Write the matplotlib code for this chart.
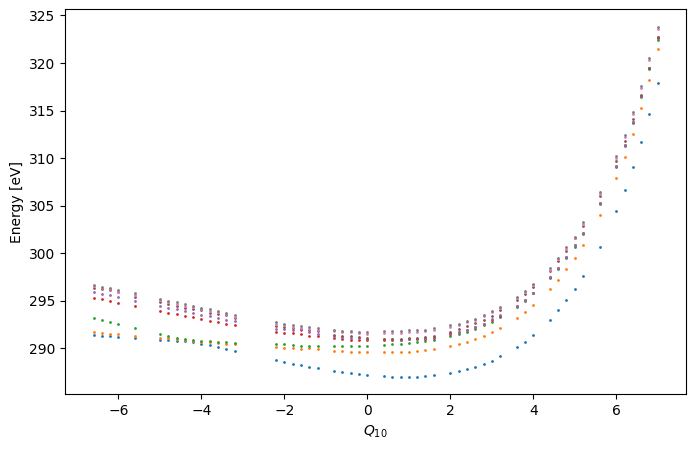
#!/usr/bin/env python3
"""Scatter: state energies along the Q10 coordinate."""

import matplotlib
matplotlib.use("Agg")
import matplotlib.pyplot as plt

Q10 = [-6.6, -6.4, -6.2, -6.0, -5.6,
       -5.0, -4.8, -4.6, -4.4, -4.2, -4.0, -3.8, -3.6, -3.4, -3.2,
       -2.2, -2.0, -1.8, -1.6, -1.4, -1.2,
       -0.8, -0.6, -0.4, -0.2, 0.0,
       0.4, 0.6, 0.8, 1.0, 1.2, 1.4, 1.6,
       2.0, 2.2, 2.4, 2.6, 2.8, 3.0, 3.2,
       3.6, 3.8, 4.0,
       4.4, 4.6, 4.8, 5.0, 5.2,
       5.6,
       6.0, 6.2, 6.4, 6.6, 6.8, 7.0]

state_1 = [291.43, 291.33, 291.33, 291.23, 291.12,
           290.91, 290.90, 290.81, 290.78, 290.70, 290.52, 290.39, 290.18, 289.97, 289.76,
           288.81, 288.60, 288.39, 288.29, 288.08, 287.97,
           287.66, 287.55, 287.45, 287.34, 287.24,
           287.13, 287.03, 287.03, 287.03, 287.03, 287.13, 287.24,
           287.45, 287.66, 287.87, 288.08, 288.36, 288.71, 289.16,
           290.18, 290.70, 291.44,
           293.01, 294.07, 295.12, 296.27, 297.64,
           300.68,
           304.46, 306.67, 309.09, 311.71, 314.65, 317.91]

state_2 = [291.75, 291.65, 291.55, 291.52, 291.33,
           291.12, 291.08, 291.02, 290.91, 290.77, 290.70, 290.63, 290.60, 290.50, 290.50,
           290.18, 290.04, 290.04, 289.97, 290.00, 289.93,
           289.76, 289.76, 289.65, 289.65, 289.65,
           289.65, 289.65, 289.65, 289.65, 289.76, 289.86, 289.97,
           290.28, 290.49, 290.70, 291.02, 291.33, 291.75, 292.17,
           293.22, 293.86, 294.59,
           296.27, 297.22, 298.37, 299.53, 300.89,
           304.04,
           307.93, 310.14, 312.55, 315.28, 318.23, 321.48]

state_3 = [293.22, 293.01, 292.80, 292.59, 292.17,
           291.54, 291.33, 291.12, 290.98, 290.87, 290.81, 290.77, 290.70, 290.70, 290.60,
           290.42, 290.42, 290.39, 290.28, 290.28, 290.21,
           290.28, 290.28, 290.28, 290.28, 290.28,
           290.39, 290.49, 290.49, 290.60, 290.70, 290.81, 290.91,
           291.33, 291.54, 291.75, 292.07, 292.49, 292.80, 293.33,
           294.38, 295.01, 295.78,
           297.41, 298.35, 299.53, 300.68, 302.05,
           305.23,
           309.09, 311.29, 313.71, 316.40, 319.40, 322.46]

state_4 = [295.33, 295.22, 295.01, 294.80, 294.49,
           293.96, 293.75, 293.64, 293.43, 293.33, 293.12, 292.91, 292.80, 292.59, 292.49,
           291.75, 291.65, 291.58, 291.47, 291.29, 291.26,
           291.05, 291.02, 290.91, 290.91, 290.91,
           290.91, 290.91, 290.91, 290.95, 290.95, 291.02, 291.12,
           291.54, 291.75, 291.89, 292.21, 292.52, 292.98, 293.40,
           294.44, 295.08, 295.81,
           297.46, 298.42, 299.60, 300.82, 302.12,
           305.27,
           309.14, 311.35, 313.78, 316.50, 319.44, 322.67]

state_5 = [295.95, 295.74, 295.64, 295.43, 295.01,
           294.49, 294.28, 294.17, 293.96, 293.75, 293.54, 293.43, 293.22, 293.01, 292.91,
           292.03, 292.00, 291.92, 291.89, 291.68, 291.47,
           291.26, 291.23, 291.12, 291.08, 291.02,
           290.95, 290.95, 290.91, 290.95, 291.02, 291.12, 291.23,
           291.61, 291.75, 291.96, 292.28, 292.59, 293.05, 293.47,
           294.49, 295.12, 295.85,
           297.49, 298.43, 299.63, 300.85, 302.15,
           305.30,
           309.19, 311.40, 313.84, 316.55, 319.50, 322.70]

state_6 = [296.38, 296.20, 296.17, 295.95, 295.43,
           294.90, 294.70, 294.49, 294.28, 294.17, 294.07, 293.75, 293.64, 293.54, 293.22,
           292.34, 292.24, 292.13, 292.07, 291.92, 291.82,
           291.40, 291.33, 291.26, 291.19, 291.08,
           291.02, 290.98, 291.02, 291.05, 291.12, 291.23, 291.33,
           291.75, 292.07, 292.38, 292.70, 293.01, 293.43, 293.99,
           295.12, 295.70, 296.48,
           298.14, 299.19, 300.29, 301.59, 302.92,
           306.04,
           309.68, 311.82, 314.13, 316.61, 319.44, 322.74]

state_7 = [296.54, 296.33, 296.20, 295.91, 295.64,
           295.04, 294.83, 294.65, 294.44, 294.34, 294.10, 293.92, 293.78, 293.64, 293.33,
           292.52, 292.42, 292.28, 292.17, 292.05, 291.96,
           291.82, 291.71, 291.71, 291.61, 291.54,
           291.58, 291.58, 291.58, 291.68, 291.75, 291.79, 291.96,
           292.28, 292.49, 292.80, 293.01, 293.40, 293.78, 294.23,
           295.33, 295.91, 296.65,
           298.27, 299.35, 300.47, 301.66, 303.03,
           306.25,
           310.03, 312.24, 314.65, 317.34, 320.32, 323.58]

state_8 = [296.72, 296.48, 296.38, 296.17, 295.85,
           295.18, 295.01, 294.90, 294.70, 294.49, 294.28, 294.13, 293.92, 293.75, 293.54,
           292.73, 292.59, 292.49, 292.34, 292.21, 292.10,
           291.96, 291.86, 291.84, 291.73, 291.75,
           291.79, 291.79, 291.79, 291.89, 291.96, 291.96, 292.10,
           292.49, 292.59, 292.91, 293.12, 293.54, 293.89, 294.38,
           295.43, 296.02, 296.79,
           298.46, 299.53, 300.68, 301.76, 303.24,
           306.42,
           310.20, 312.41, 314.86, 317.55, 320.49, 323.79]

STATES = [state_1, state_2, state_3, state_4, state_5, state_6, state_7, state_8]


def main():
    fig, ax = plt.subplots(figsize=(6.95, 4.5), dpi=100)
    for energies in STATES:
        ax.scatter(Q10, energies, s=1)

    ax.set_xlabel("$Q_{10}$")
    ax.set_ylabel("Energy [eV]")

    fig.subplots_adjust(left=0.094, right=0.987, top=0.979, bottom=0.124)
    fig.savefig("out.png", dpi=100)


if __name__ == "__main__":
    main()
